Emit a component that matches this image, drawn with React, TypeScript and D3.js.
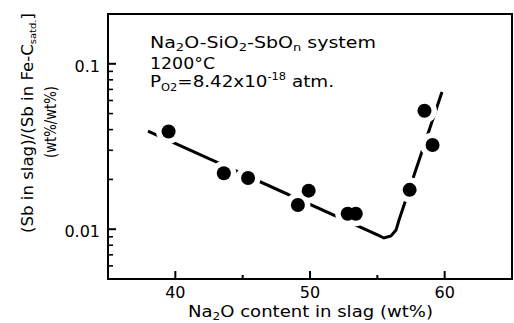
import React from "react";
import * as d3 from "d3";

// ---- data ----
const na2oContent = [39.5, 43.6, 45.4, 49.1, 49.9, 52.8, 53.4, 57.4, 58.5, 59.1];
const sbRatio = [0.039, 0.0218, 0.0204, 0.014, 0.0171, 0.0124, 0.0124, 0.0173, 0.052, 0.0323];

const trendX = [37.97, 55.05, 55.49, 56.01, 56.39, 56.61, 59.8];
const trendY = [0.0392, 0.00922, 0.00885, 0.0091, 0.00989, 0.01137, 0.0675];

const xMajorTicks = [40, 50, 60];
const xTickLabels = ["40", "50", "60"];
const xMinorTicks = [45, 55];
const yMajorTicks = [0.01, 0.1];
const yTickLabels = ["0.01", "0.1"];
const yMinorTicks = [0.006, 0.007, 0.008, 0.009, 0.02, 0.03, 0.04, 0.05, 0.06, 0.07, 0.08, 0.09];

const W = 514;
const H = 323;
const FONT = "'DejaVu Sans', sans-serif";

export default function App() {
  const x = d3.scaleLinear().domain([35, 65]).range([108, 512]);
  const y = d3.scaleLog().domain([0.005, 0.2]).range([279, 14]);

  const x0 = x(35), x1 = x(65), y0 = y(0.005), y1 = y(0.2);

  const line = d3
    .line<number>()
    .x((_, i) => x(trendX[i]))
    .y((_, i) => y(trendY[i]));
  const pathD = line(trendX.map((_, i) => i)) || "";

  return (
    <svg
      width={W}
      height={H}
      style={{ position: "absolute", left: 0, top: 0, background: "#fff" }}
      fontFamily={FONT}
    >
      <rect x={0} y={0} width={W} height={H} fill="#fff" />
      {/* trend line */}
      <path d={pathD} fill="none" stroke="#000" strokeWidth={3} />
      {/* white halos that break the line near the dots */}
      {na2oContent.map((v, i) => (
        <circle key={"h" + i} cx={x(v)} cy={y(sbRatio[i])} r={12.5} fill="#fff" />
      ))}
      {na2oContent.map((v, i) => (
        <circle key={"p" + i} cx={x(v)} cy={y(sbRatio[i])} r={7} fill="#000" />
      ))}

      {/* frame */}
      <rect x={x0} y={y1} width={x1 - x0} height={y0 - y1} fill="none" stroke="#000" strokeWidth={2} />

      {/* x ticks */}
      {xMajorTicks.map((t) => (
        <line key={"xm" + t} x1={x(t)} x2={x(t)} y1={y0} y2={y0 - 8} stroke="#000" strokeWidth={2} />
      ))}
      {xMinorTicks.map((t) => (
        <line key={"xn" + t} x1={x(t)} x2={x(t)} y1={y0} y2={y0 - 4} stroke="#000" strokeWidth={2} />
      ))}
      {xMajorTicks.map((t, i) => (
        <text key={"xl" + t} x={x(t)} y={298} textAnchor="middle" fontSize={16} fill="#000">
          {xTickLabels[i]}
        </text>
      ))}

      {/* y ticks */}
      {yMajorTicks.map((t) => (
        <line key={"ym" + t} x1={x0} x2={x0 + 8} y1={y(t)} y2={y(t)} stroke="#000" strokeWidth={2} />
      ))}
      {yMinorTicks.map((t) => (
        <line key={"yn" + t} x1={x0} x2={x0 + 5} y1={y(t)} y2={y(t)} stroke="#000" strokeWidth={1.6} />
      ))}
      {yMajorTicks.map((t, i) => (
        <text key={"yl" + t} x={100} y={y(t) + 8} textAnchor="end" fontSize={16} fill="#000">
          {yTickLabels[i]}
        </text>
      ))}

      {/* x axis title */}
      <text x={188} y={317} fontSize={15} fill="#000" textLength={245} lengthAdjust="spacingAndGlyphs">
        Na<tspan fontSize={10} dy={3}>2</tspan>
        <tspan dy={-3}>O content in slag (wt%)</tspan>
      </text>

      {/* y axis title */}
      <g transform="translate(33,233) rotate(-90)">
        <text x={0} y={0} fontSize={15} fill="#000" textLength={220} lengthAdjust="spacingAndGlyphs">
          (Sb in slag)/(Sb in Fe-C<tspan fontSize={9} dy={3}>satd.</tspan>
          <tspan dy={-3}>]</tspan>
        </text>
      </g>
      <g transform="translate(56,158) rotate(-90)">
        <text x={0} y={0} fontSize={15} fill="#000" textLength={72} lengthAdjust="spacingAndGlyphs">
          (wt%/wt%)
        </text>
      </g>

      {/* annotation */}
      <text x={150} y={48} fontSize={16} fill="#000" textLength={226} lengthAdjust="spacingAndGlyphs">
        Na<tspan fontSize={11} dy={3}>2</tspan>
        <tspan dy={-3}>O-SiO</tspan>
        <tspan fontSize={11} dy={3}>2</tspan>
        <tspan dy={-3}>-SbO</tspan>
        <tspan fontSize={11} dy={3}>n</tspan>
        <tspan dy={-3}> system</tspan>
      </text>
      <text x={150} y={69} fontSize={16} fill="#000" textLength={65} lengthAdjust="spacingAndGlyphs">
        1200°C
      </text>
      <text x={150} y={87} fontSize={16} fill="#000" textLength={184} lengthAdjust="spacingAndGlyphs">
        P<tspan fontSize={10} dy={4}>O2</tspan>
        <tspan dy={-4}>=8.42x10</tspan>
        <tspan fontSize={10} dy={-7}>-18</tspan>
        <tspan dy={7}> atm.</tspan>
      </text>
    </svg>
  );
}
